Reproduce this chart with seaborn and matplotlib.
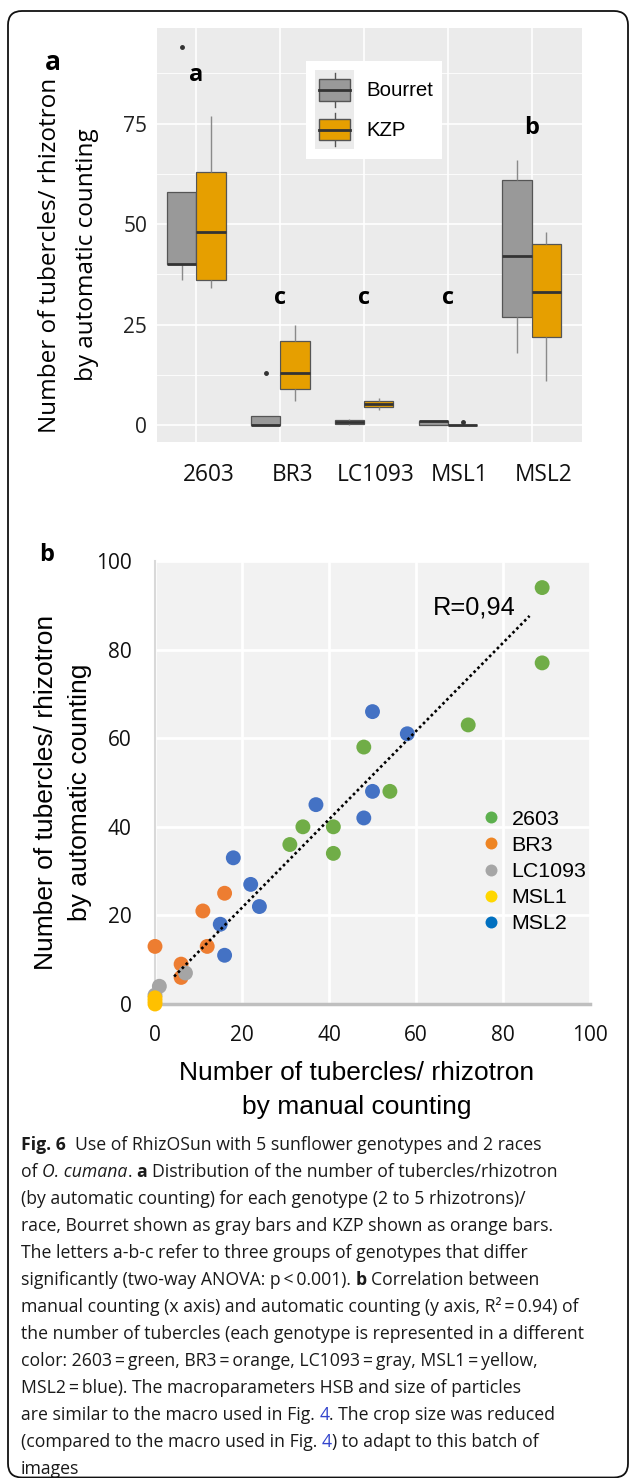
import numpy as np
import pandas as pd
import matplotlib
matplotlib.use("Agg")
import matplotlib.pyplot as plt
import seaborn as sns
from matplotlib.patches import Rectangle, FancyBboxPatch
from matplotlib.lines import Line2D
from matplotlib.legend_handler import HandlerBase
from matplotlib.transforms import ScaledTranslation

plt.rcParams['font.family'] = ['Open Sans', 'DejaVu Sans']

# ---- panel a: tubercles per rhizotron (automatic counting), per genotype / race
genotypes = ['2603', 'BR3', 'LC1093', 'MSL1', 'MSL2']
races = ['Bourret', 'KZP']
race_colors = {'Bourret': '#999999', 'KZP': '#E69F00'}
bourret_counts = {
    '2603': [36, 40, 40, 58, 94],
    'BR3': [0, 0, 0, 2.2, 13],
    'LC1093': [0, 0.3, 0.8, 1.2, 1.6],
    'MSL1': [0, 0, 1.1, 1.1, 1.1],
    'MSL2': [18, 27, 42, 61, 66],
}
kzp_counts = {
    '2603': [34, 36, 48, 63, 77],
    'BR3': [6, 9, 13, 21, 25],
    'LC1093': [3.7, 4.5, 5.2, 6.0, 6.7],
    'MSL1': [0, 0, 0, 0, 0.9],
    'MSL2': [11, 22, 33, 45, 48],
}
group_letters = ['a', 'c', 'c', 'c', 'b']
letter_heights = [87, 31.6, 31.6, 31.6, 74]

# ---- panel b: manual vs automatic counting
manual_2603 = [89, 89, 72, 48, 54, 34, 41, 31, 41]
auto_2603 = [94, 77, 63, 58, 48, 40, 40, 36, 34]
manual_br3 = [0, 6, 6, 11, 12, 16]
auto_br3 = [13, 9, 6, 21, 13, 25]
manual_lc1093 = [0, 1, 7]
auto_lc1093 = [2, 4, 7]
manual_msl1 = [0, 0, 0]
auto_msl1 = [0, 0.7, 1.4]
manual_msl2 = [50, 58, 50, 37, 48, 18, 22, 24, 15, 16]
auto_msl2 = [66, 61, 48, 45, 42, 33, 27, 22, 18, 11]
point_colors = {'2603': '#70AD47', 'BR3': '#ED7D31', 'LC1093': '#A5A5A5',
                'MSL1': '#FFC000', 'MSL2': '#4472C4'}
legend_colors = ['#5DB04E', '#EE8524', '#A6A6A6', '#FFD700', '#0070C0']
# dotted trend line as drawn in the figure (ends)
trend_manual = [4.4, 86.1]
trend_auto = [6.2, 87.6]
r_label = 'R=0,94'

caption_lines = [
    [('Fig. 6', 'bold', 0), ('Use of RhizOSun with 5 sunflower genotypes and 2 races', 'normal', 0.55)],
    [('of', 'normal', 0), ('O. cumana', 'italic', 0.26), ('.', 'normal', 0), ('a', 'bold', 0.26),
     ('Distribution of the number of tubercles/rhizotron', 'normal', 0.26)],
    [('(by automatic counting) for each genotype (2 to 5 rhizotrons)/', 'normal', 0)],
    [('race, Bourret shown as gray bars and KZP shown as orange bars.', 'normal', 0)],
    [('The letters a-b-c refer to three groups of genotypes that differ', 'normal', 0)],
    [('significantly (two-way ANOVA: p\u2009<\u20090.001).', 'normal', 0), ('b', 'bold', 0.26),
     ('Correlation between', 'normal', 0.26)],
    [('manual counting (x axis) and automatic counting (y axis, R\u00b2\u2009=\u20090.94) of', 'normal', 0)],
    [('the number of tubercles (each genotype is represented in a different', 'normal', 0)],
    [('color: 2603\u2009=\u2009green, BR3\u2009=\u2009orange, LC1093\u2009=\u2009gray, MSL1\u2009=\u2009yellow,', 'normal', 0)],
    [('MSL2\u2009=\u2009blue). The macroparameters HSB and size of particles', 'normal', 0)],
    [('are similar to the macro used in Fig.', 'normal', 0), ('4', 'link', 0.26),
     ('. The crop size was reduced', 'normal', 0)],
    [('(compared to the macro used in Fig.', 'normal', 0), ('4', 'link', 0.26),
     (') to adapt to this batch of', 'normal', 0)],
    [('images', 'normal', 0)],
]


class BoxKey(HandlerBase):
    def create_artists(self, legend, orig_handle, xdescent, ydescent,
                       width, height, fontsize, trans):
        x0, y0 = -xdescent, -ydescent
        bg = Rectangle((x0, y0), width, height, facecolor='#ebebeb',
                       edgecolor='none', transform=trans)
        bw, bh = width * 0.8, height * 0.55
        bx, by = x0 + (width - bw) / 2, y0 + (height - bh) / 2
        cx = x0 + width / 2
        lo = Line2D([cx, cx], [y0 + height * 0.08, by], color='#555555', lw=1, transform=trans)
        hi = Line2D([cx, cx], [by + bh, y0 + height * 0.92], color='#555555', lw=1, transform=trans)
        box = Rectangle((bx, by), bw, bh, facecolor=orig_handle.get_facecolor(),
                        edgecolor='#555555', lw=1, transform=trans)
        med = Line2D([bx, bx + bw], [by + bh / 2] * 2, color='#333333', lw=2, transform=trans)
        return [bg, lo, hi, box, med]


fig = plt.figure(figsize=(6.3, 14.78), dpi=100)
W, H = 630, 1478


def px_axes(left, top, right, bottom):
    return fig.add_axes([left / W, 1 - bottom / H, (right - left) / W, (bottom - top) / H])


# ================= panel a =================
rows = []
for g in genotypes:
    for v in bourret_counts[g]:
        rows.append((g, 'Bourret', v))
    for v in kzp_counts[g]:
        rows.append((g, 'KZP', v))
df_a = pd.DataFrame(rows, columns=['genotype', 'race', 'count'])

ax = px_axes(157, 28, 582, 442)
ax.set_facecolor('#ebebeb')
sns.boxplot(data=df_a, x='genotype', y='count', hue='race', order=genotypes,
            hue_order=races, palette=race_colors, width=0.7, gap=0, saturation=1,
            linewidth=0.9, linecolor='#555555', fliersize=2.5, legend=False, ax=ax,
            medianprops=dict(color='#333333', linewidth=2),
            whiskerprops=dict(color='#8a8a8a', linewidth=1),
            capprops=dict(linewidth=0),
            flierprops=dict(marker='o', markerfacecolor='#333333', markeredgecolor='#333333'))
ax.set_xlim(-0.47, 4.6)
ax.set_ylim(-4.2, 98.8)
ax.set_yticks([0, 25, 50, 75])
ax.set_yticks([12.5, 37.5, 62.5, 87.5], minor=True)
ax.grid(True, which='major', color='white', lw=1.2)
ax.grid(True, which='minor', axis='y', color='white', lw=0.6)
ax.set_axisbelow(True)
for s in ax.spines.values():
    s.set_visible(False)
ax.tick_params(axis='both', which='both', length=0)
ax.tick_params(axis='y', pad=7, labelsize=15, labelcolor='#222222')
ax.tick_params(axis='x', pad=15, labelsize=16.3, labelcolor='#111111')
for lab in ax.get_xticklabels():
    lab.set_transform(lab.get_transform() + ScaledTranslation(0.12, 0, fig.dpi_scale_trans))
ax.set_xlabel('')
ax.set_ylabel('')

for i, (letter, yv) in enumerate(zip(group_letters, letter_heights)):
    ax.text(i, yv, letter, ha='center', va='center', fontsize=17, fontweight='bold')

handles = [Rectangle((0, 0), 1, 1, facecolor=race_colors[r]) for r in races]
ax.legend(handles, races, handler_map={h: BoxKey() for h in handles},
          loc='upper left', bbox_to_anchor=(0.351, 0.92), borderaxespad=0,
          frameon=True, fancybox=False, facecolor='white', edgecolor='none', framealpha=1,
          prop=dict(family='Liberation Sans', size=14.7), handlelength=1.9,
          handleheight=2.6, labelspacing=0, handletextpad=0.6, borderpad=0.45)

fig.text(50 / W, 1 - 255 / H, 'Number of tubercles/ rhizotron', rotation=90,
         ha='center', va='center', fontsize=17.5)
fig.text(87 / W, 1 - 255 / H, 'by automatic counting', rotation=90,
         ha='center', va='center', fontsize=17.5)
fig.text(53 / W, 1 - 62 / H, 'a', ha='center', va='center', fontsize=19, fontweight='bold')

# ================= panel b =================
df_b = pd.concat([
    pd.DataFrame({'manual': manual_2603, 'auto': auto_2603, 'genotype': '2603'}),
    pd.DataFrame({'manual': manual_br3, 'auto': auto_br3, 'genotype': 'BR3'}),
    pd.DataFrame({'manual': manual_lc1093, 'auto': auto_lc1093, 'genotype': 'LC1093'}),
    pd.DataFrame({'manual': manual_msl1, 'auto': auto_msl1, 'genotype': 'MSL1'}),
    pd.DataFrame({'manual': manual_msl2, 'auto': auto_msl2, 'genotype': 'MSL2'}),
], ignore_index=True)

axb = px_axes(155, 561, 590, 1004)
axb.set_facecolor('#f2f2f2')
sns.scatterplot(data=df_b, x='manual', y='auto', hue='genotype', hue_order=genotypes,
                palette=point_colors, s=115, linewidth=0, legend=False, ax=axb,
                clip_on=False, zorder=3)
sns.lineplot(x=trend_manual, y=trend_auto, ax=axb, color='black', lw=1.9,
             ls=(0, (1, 1.1)), zorder=4)
axb.text(73.3, 89.4, r_label, ha='center', va='center', fontsize=18.3, family='Liberation Sans')

axb.set_xlim(0, 100)
axb.set_ylim(0, 100)
axb.set_xticks(range(0, 101, 20))
axb.set_yticks(range(0, 101, 20))
axb.grid(True, color='white', lw=2)
axb.set_axisbelow(True)
for s in ['top', 'right']:
    axb.spines[s].set_visible(False)
axb.spines['left'].set_color('#d9d9d9')
axb.spines['left'].set_linewidth(1.5)
axb.spines['bottom'].set_color('#bfbfbf')
axb.spines['bottom'].set_linewidth(2.5)
axb.tick_params(length=0, labelsize=15, labelcolor='#111111')
axb.tick_params(axis='x', pad=15)
axb.tick_params(axis='y', pad=17)
axb.set_xlabel('')
axb.set_ylabel('')

leg_handles = [Line2D([], [], marker='o', ls='none', markersize=8.6,
                      markerfacecolor=c, markeredgecolor='none') for c in legend_colors]
axb.legend(leg_handles, genotypes, loc='center left', bbox_to_anchor=(0.748, 0.299),
           frameon=False, borderpad=0, borderaxespad=0, handlelength=1.0,
           handletextpad=0.45, labelspacing=0.33,
           prop=dict(family='Liberation Sans', size=15.4))

fig.text(46 / W, 1 - 792 / H, 'Number of tubercles/ rhizotron', rotation=90,
         ha='center', va='center', fontsize=19, family='Liberation Sans')
fig.text(80 / W, 1 - 792 / H, 'by automatic counting', rotation=90,
         ha='center', va='center', fontsize=19, family='Liberation Sans')
fig.text(357 / W, 1 - 1073 / H, 'Number of tubercles/ rhizotron',
         ha='center', va='center', fontsize=19, family='Liberation Sans')
fig.text(357 / W, 1 - 1107 / H, 'by manual counting',
         ha='center', va='center', fontsize=19, family='Liberation Sans')
fig.text(47 / W, 1 - 555 / H, 'b', ha='center', va='center', fontsize=17, fontweight='bold')

# ================= caption =================
cap_ax = fig.add_axes([0, 0, 1, 1])
cap_ax.axis('off')
cap_size = 12.7
styles = {'normal': {}, 'bold': {'fontweight': 'bold'}, 'italic': {'fontstyle': 'italic'},
          'link': {'color': '#3344cc'}}
for i, parts in enumerate(caption_lines):
    y = H - (1150 + 27 * i)
    prev = None
    for text, st, gap in parts:
        kw = dict(fontsize=cap_size, color='#1a1a1a', va='baseline' if prev is None else 'bottom',
                  ha='left', annotation_clip=False)
        kw.update(styles[st])
        if prev is None:
            prev = cap_ax.annotate(text, xy=(21, y), xycoords='figure pixels', **kw)
        else:
            prev = cap_ax.annotate(text, xy=(1, 0), xycoords=prev,
                                   xytext=(gap * cap_size, 0), textcoords='offset points', **kw)

# rounded page frame
frame = FancyBboxPatch((0.08, 0.005), 6.2, 14.665, boxstyle='round,pad=0,rounding_size=0.14',
                       transform=fig.dpi_scale_trans, facecolor='none', edgecolor='#111111',
                       lw=1.3, clip_on=False)
fig.patches.append(frame)

fig.savefig('out.png', dpi=100)
